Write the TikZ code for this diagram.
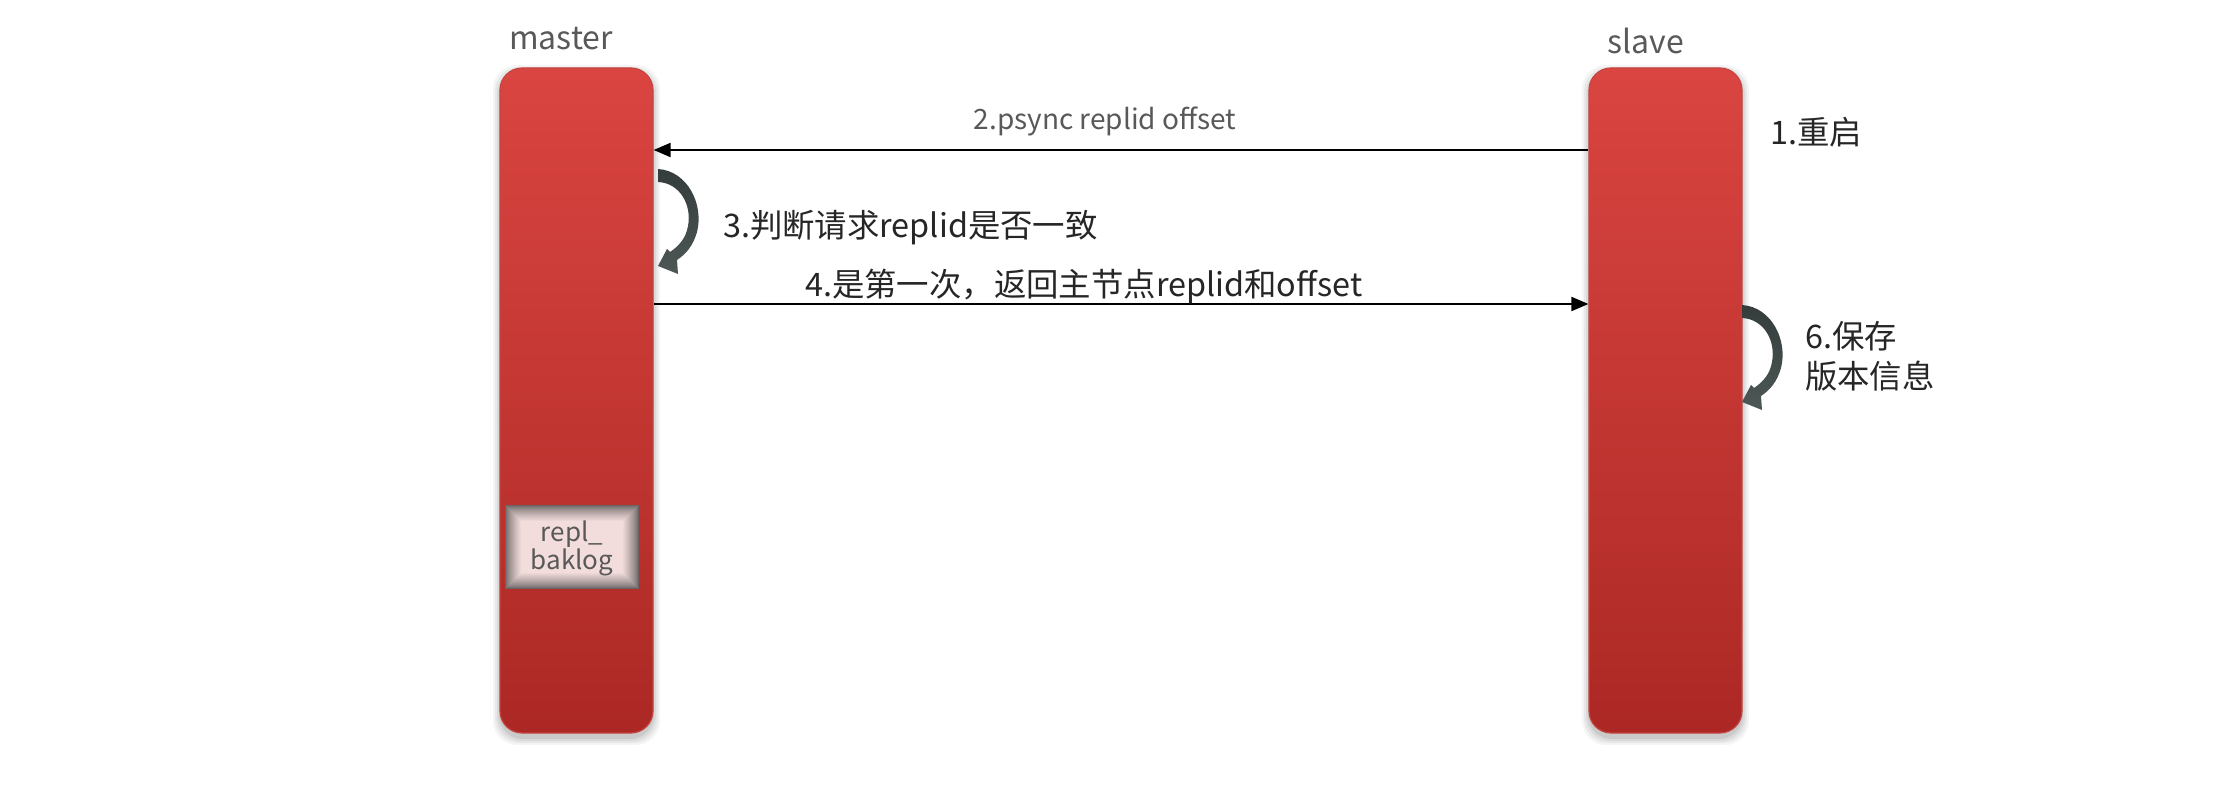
\documentclass[tikz,border=0pt]{standalone}
\usepackage{fontspec}
\setmainfont{Noto Sans CJK SC}
\usetikzlibrary{arrows.meta}
\definecolor{bartop}{HTML}{DA4541}
\definecolor{barbot}{HTML}{AC2824}
\definecolor{barborder}{HTML}{C44541}
\definecolor{lblgray}{HTML}{595959}
\definecolor{txtc}{HTML}{262626}
\definecolor{crvtop}{HTML}{343C3C}
\definecolor{crvbot}{HTML}{4D5856}
\definecolor{pinkfill}{HTML}{F2DDDC}
\definecolor{edgegray}{HTML}{6A6464}
\newcommand\crvarrow{%
  \path[top color=crvtop, bottom color=crvbot]
    (658,169) .. controls (688,171) and (704,205) .. (697,232)
    .. controls (693,246) and (686,254) .. (677,260)
    -- (678,274) -- (658,266) -- (667,249) -- (670,252)
    .. controls (679,246) and (686,238) .. (688,226)
    .. controls (692,205) and (680,183) .. (658,182) -- cycle;}
\begin{document}
\begin{tikzpicture}[x=0.5pt,y=-0.5pt,
  bar/.style={rounded corners=11pt, minimum width=76.5pt, minimum height=332.5pt,
    top color=bartop, bottom color=barbot, draw=barborder, line width=0.6pt, inner sep=0pt},
  msg/.style={line width=1pt, -{Triangle[length=8.5pt,width=7pt]}},
  headlbl/.style={text=lblgray, font=\fontsize{16}{19}\selectfont},
  steplbl/.style={text=txtc, font=\fontsize{16.2}{20.5}\selectfont},
  msglbl/.style={text=lblgray, font=\fontsize{14}{17}\selectfont}]
\useasboundingbox (0,0) rectangle (2235,791);
\fill[white] (0,0) rectangle (2235,791);
% soft shadows of the bars
\foreach \bx in {500,1589}{
  \foreach \s/\o in {7/0.04,5/0.05,3/0.06,1/0.07}{
    \fill[black, opacity=\o, rounded corners=12pt]
      (\bx-\s, 68-\s+4) rectangle (\bx+153+\s, 733+\s+5);
  }
}
\node[bar] (master) at (576.5,400.5) {};
\node[bar] (slave) at (1665.5,400.5) {};
\node[headlbl, anchor=base] (mlbl) at (561,50) {master};
\node[headlbl, anchor=base] (slbl) at (1646,54) {slave};
% repl_baklog box with inner shadow
\node[minimum width=67pt, minimum height=42pt, inner sep=0pt] (rb) at (572,547) {};
\foreach \i in {0,...,16}{
  \pgfmathtruncatemacro\p{min(100,100*(\i/16)^0.75)}
  \fill[pinkfill!\p!edgegray] ([shift={(\i,\i)}]rb.north west) rectangle ([shift={(-\i,-\i)}]rb.south east);
}
\node[text=lblgray, font=\fontsize{13}{14}\selectfont, align=center, anchor=base] (rblbl) at (572,569) {repl\_\\baklog};
% messages
\coordinate (y2) at (0,150);
\coordinate (y4) at (0,304);
\draw[msg] (slave.west |- y2) -- (master.east |- y2);
\draw[msg] (master.east |- y4) -- (slave.west |- y4);
\node[msglbl, anchor=base] (l2) at (1105,130) {2.psync replid offset};
\node[steplbl, anchor=base west] (l1) at (1763,145) {1.重启};
\node[steplbl, anchor=base west] (l3) at (716,238) {3.判断请求replid是否一致};
\node[steplbl, anchor=base west] (l4) at (798,297) {4.是第一次，返回主节点replid和offset};
\node[steplbl, anchor=base west, align=left] (l6) at (1798,389) {6.保存\\版本信息};
% self arrows
\crvarrow
\begin{scope}[shift={(1084,136)}]
\crvarrow
\end{scope}
\end{tikzpicture}
\end{document}
